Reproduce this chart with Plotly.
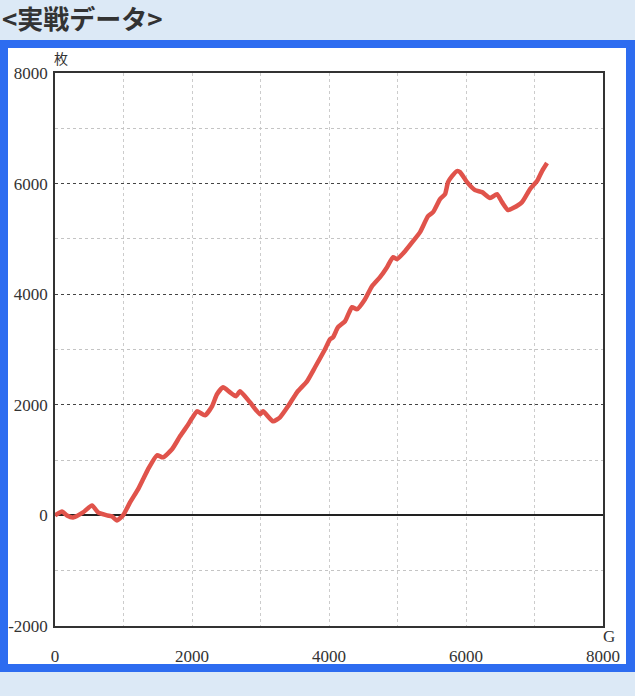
import plotly.graph_objects as go

games = [0, 102, 175, 263, 409, 540, 628, 759, 832, 905, 993, 1095, 1212, 1285, 1358,
         1489, 1577, 1708, 1825, 1927, 2000, 2073, 2190, 2292, 2365, 2453, 2555, 2643,
         2701, 2847, 2993, 3037, 3183, 3285, 3402, 3533, 3679, 3796, 3942, 4015, 4059,
         4132, 4234, 4336, 4409, 4526, 4628, 4745, 4847, 4935, 4993, 5110, 5227, 5329,
         5446, 5519, 5621, 5694, 5738, 5796, 5869, 5913, 6015, 6132, 6234, 6351, 6453,
         6526, 6614, 6687, 6818, 6935, 7037, 7110, 7183]
coins = [0, 72, 0, -36, 54, 181, 54, 0, -18, -90, 0, 235, 471, 652, 833,
         1086, 1050, 1195, 1430, 1611, 1756, 1882, 1810, 1973, 2190, 2317, 2226, 2154,
         2244, 2045, 1828, 1882, 1701, 1774, 1973, 2226, 2425, 2679, 3005, 3186, 3222,
         3403, 3511, 3765, 3729, 3910, 4145, 4308, 4489, 4670, 4634, 4778, 4959, 5122,
         5412, 5484, 5720, 5810, 6027, 6136, 6226, 6208, 6027, 5883, 5846, 5738, 5810,
         5665, 5521, 5557, 5665, 5901, 6045, 6226, 6371]

x_ticks = [0, 2000, 4000, 6000, 8000]
y_ticks = [-2000, 0, 2000, 4000, 6000, 8000]
title_text = "<実戦データ>"
y_unit = "枚"
x_unit = "G"

W, H = 635, 696
L, R, T, B = 55, 32, 73, 70
pw, ph = W - L - R, H - T - B

def px(x):
    return (x - L) / pw

def py(y):
    return (H - B - y) / ph

serif = "Liberation Serif"

fig = go.Figure()
fig.add_trace(go.Scatter(x=games, y=coins, mode="lines",
                         line=dict(color="#e0534b", width=4.5, shape="spline", smoothing=0.5),
                         hoverinfo="skip"))

fig.update_layout(
    width=W, height=H,
    margin=dict(l=L, r=R, t=T, b=B),
    paper_bgcolor="#dce9f6",
    plot_bgcolor="#ffffff",
    showlegend=False,
    xaxis=dict(range=[0, 8000], tickvals=x_ticks, ticktext=[str(v) for v in x_ticks],
               showgrid=True, gridcolor="#cccccc", griddash="dot", gridwidth=1,
               minor=dict(dtick=1000, tick0=0, showgrid=True, gridcolor="#cccccc", griddash="dot"),
               zeroline=False, showline=True, linecolor="#333333", linewidth=1.5, mirror=True,
               ticks="", ticklabelstandoff=14, automargin=False,
               tickfont=dict(family=serif, size=17, color="#333333"), fixedrange=True),
    yaxis=dict(range=[-2000, 8000], tickvals=y_ticks, ticktext=[str(v) for v in y_ticks],
               showgrid=True, gridcolor="#444444", griddash="dot", gridwidth=1,
               minor=dict(dtick=1000, tick0=0, showgrid=True, gridcolor="#c4c4c4", griddash="dot"),
               zeroline=True, zerolinecolor="#222222", zerolinewidth=1.5,
               showline=True, linecolor="#333333", linewidth=1.5, mirror=True,
               ticks="", ticklabelstandoff=2, automargin=False,
               tickfont=dict(family=serif, size=17, color="#333333"), fixedrange=True),
    shapes=[
        dict(type="rect", xref="paper", yref="paper", layer="below",
             x0=px(0), x1=px(635), y0=py(672), y1=py(40),
             fillcolor="#2d6cf0", line=dict(width=0)),
        dict(type="rect", xref="paper", yref="paper", layer="below",
             x0=px(8), x1=px(626), y0=py(664), y1=py(48),
             fillcolor="#ffffff", line=dict(width=0)),
    ],
    annotations=[
        dict(text="<b>" + title_text.replace("<", "&lt;").replace(">", "&gt;") + "</b>",
             xref="paper", yref="paper", x=px(0), y=py(18), xanchor="left", yanchor="middle",
             showarrow=False, font=dict(family="Noto Sans CJK JP", size=26, color="#333333")),
        dict(text=y_unit, xref="paper", yref="paper", x=px(52), y=py(58),
             xanchor="left", yanchor="middle", showarrow=False,
             font=dict(family="Noto Sans CJK JP", size=14, color="#333333")),
        dict(text=x_unit, xref="paper", yref="paper", x=px(609), y=py(636),
             xanchor="center", yanchor="middle", showarrow=False,
             font=dict(family=serif, size=17, color="#333333")),
    ],
)

fig.write_html("out.html", config={"displayModeBar": False},
               post_script="document.body.style.margin='0';document.body.style.overflow='hidden';")
